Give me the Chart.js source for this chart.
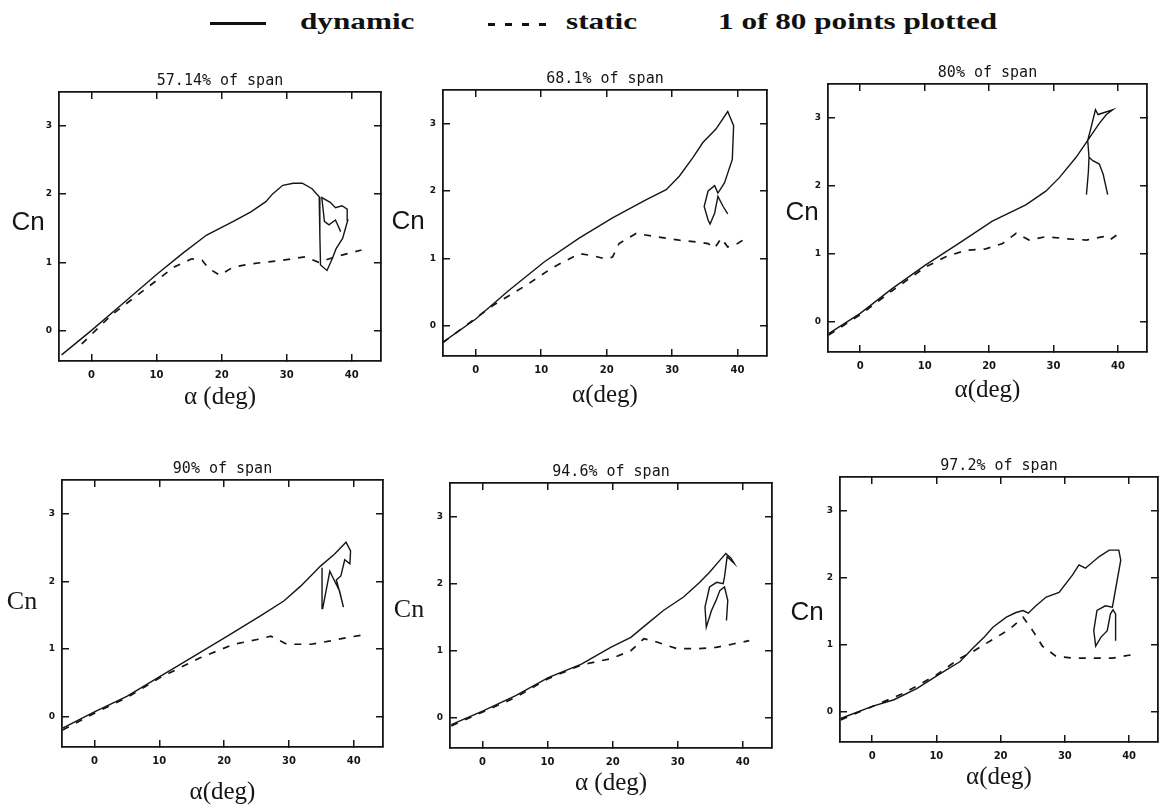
<!DOCTYPE html>
<html>
<head>
<meta charset="utf-8">
<script src="https://cdn.jsdelivr.net/npm/chart.js@4.4.1/dist/chart.umd.min.js"></script>
<style>
  html, body { margin: 0; padding: 0; background: #fff; overflow: hidden; }
  #page { position: relative; width: 1159px; height: 808px; }
  canvas { position: absolute; }
  .key { position: absolute; font-family: "Liberation Serif", serif; font-weight: bold; font-size: 24px;
         line-height: 24px; color: #111; transform-origin: 0 50%; transform: scaleX(1.3); white-space: nowrap; }
  .swatch { position: absolute; height: 3px; }
</style>
</head>
<body>
<div id="page">
  <div class="swatch" style="left:210px;top:22px;width:56px;background:#111"></div>
  <div class="key" style="left:300px;top:9px">dynamic</div>
  <div class="swatch" style="left:488px;top:23px;width:60px;background:repeating-linear-gradient(90deg,#111 0 7px,transparent 7px 17px)"></div>
  <div class="key" style="left:566px;top:9px">static</div>
  <div class="key" style="left:718px;top:9px">1 of 80 points plotted</div>
</div>
<script>
// panel titles and axis labels
const spanTitles = ["57.14% of span", "68.1% of span", "80% of span", "90% of span", "94.6% of span", "97.2% of span"];
const alphaTitles = ["\u03b1 (deg)", "\u03b1(deg)", "\u03b1(deg)", "\u03b1(deg)", "\u03b1 (deg)", "\u03b1(deg)"];
const xTicks = [0, 10, 20, 30, 40];
const yTicks = [0, 1, 2, 3];
const xRange = [-5, 44.5];
const yRange = [-0.45, 3.5];

// [alpha, Cn]
const dynamic57 = [[-4.6,-0.36],[0,0.0],[5,0.41],[10,0.82],[14,1.13],[17.7,1.4],[21.8,1.6],[24.5,1.74],[26.8,1.89],
  [27.8,2.0],[29.4,2.13],[31,2.16],[32.4,2.16],[33.9,2.08],[35,1.96],[35.1,1.4],[35.2,0.96],[36.2,0.88],[37,1.05],
  [37.6,1.2],[38.6,1.35],[39.4,1.62],[39.3,1.78],[38.5,1.83],[37.5,1.8],[36.7,1.88],[35.4,1.95],[35.8,1.6],
  [36.5,1.55],[37.5,1.62],[38.3,1.45]];
const static57 = [[-1.5,-0.2],[3,0.22],[8.6,0.63],[12.7,0.93],[15.4,1.05],[17,1.03],[18,0.91],[19.7,0.81],[21.8,0.93],
  [24.8,0.98],[29.4,1.03],[32.9,1.08],[34.9,1.0],[37.5,1.08],[39.5,1.13],[41.5,1.18]];

const dynamic68 = [[-5.1,-0.25],[0,0.1],[5,0.52],[10.5,0.95],[15.8,1.3],[20.9,1.6],[26,1.87],[29.1,2.02],[31.1,2.22],
  [33.2,2.5],[34.7,2.72],[36.7,2.92],[38.5,3.18],[39.4,2.97],[39.2,2.47],[38,2.12],[37,1.97],[36.5,2.08],[35.5,2.0],
  [34.9,1.77],[35.5,1.57],[35.8,1.51],[36.5,1.67],[37,1.92],[37.8,1.77],[38.5,1.66]];
const static68 = [[-5,-0.25],[2.6,0.3],[7.7,0.6],[11.7,0.86],[15.8,1.07],[17.9,1.04],[19.9,0.99],[20.9,1.02],[21.9,1.22],
  [24.5,1.37],[27.6,1.32],[31.1,1.27],[34.2,1.24],[35.5,1.22],[36.5,1.15],[37.5,1.3],[38.5,1.17],[40,1.22],[41.3,1.3]];

const dynamic80 = [[-4.9,-0.18],[0,0.12],[4.9,0.48],[10.1,0.83],[15.3,1.15],[20.5,1.48],[25.7,1.72],[28.8,1.92],
  [30.9,2.12],[33.5,2.42],[35.3,2.67],[37.1,2.92],[38.2,3.05],[39.2,3.12],[36.9,3.05],[36.5,3.12],[35.8,2.85],
  [35.3,2.67],[35.5,2.42],[36.1,2.37],[37.1,2.32],[37.7,2.17],[38.4,1.87],[37.7,2.17],[37.1,2.32],[36.1,2.37],
  [35.5,2.42],[35.4,2.2],[35.1,1.87]];
const static80 = [[-4.9,-0.2],[0,0.1],[4.9,0.45],[10.1,0.8],[13.2,0.95],[16.4,1.05],[19.5,1.07],[22.1,1.15],[24.2,1.3],
  [26.2,1.2],[28.8,1.25],[31.9,1.22],[35.1,1.2],[37.7,1.25],[38.7,1.2],[40.5,1.32]];

const dynamic90 = [[-4.9,-0.17],[0,0.07],[5,0.3],[10.2,0.6],[15.3,0.89],[20.5,1.19],[25.6,1.49],[29.2,1.71],[31.8,1.93],
  [34.9,2.23],[37,2.4],[38.8,2.58],[39.5,2.45],[39.4,2.26],[38.6,2.32],[38,2.08],[37.3,2.02],[37.8,1.85],[38.4,1.62],
  [37.8,1.86],[36.8,2.05],[36.3,2.15],[35.8,1.9],[35.2,1.6],[35.1,2.2]];
const static90 = [[-4.9,-0.2],[0,0.05],[5,0.28],[10.2,0.58],[16.3,0.87],[21.5,1.07],[25.1,1.14],[27.2,1.19],[29.7,1.07],
  [33.4,1.07],[36.4,1.12],[39,1.17],[41.6,1.21]];

const dynamic946 = [[-4.8,-0.1],[0,0.1],[5.1,0.33],[10.1,0.6],[15.2,0.8],[19.7,1.05],[22.8,1.2],[25.3,1.4],[27.8,1.6],
  [30.9,1.8],[33.4,2.02],[34.9,2.17],[36.5,2.35],[37.4,2.45],[38.2,2.38],[38.7,2.3],[37.6,2.4],[37.2,2.1],[37,2.0],
  [36,2.02],[34.9,1.95],[34.2,1.65],[34.4,1.35],[35.2,1.6],[35.9,1.75],[36.5,1.9],[37.2,1.95],[37.7,1.75],[37.5,1.45]];
const static946 = [[-4.8,-0.12],[5,0.3],[10,0.58],[15,0.78],[16.7,0.82],[19.7,0.88],[22.8,1.0],[24.8,1.18],[26.8,1.13],
  [29.9,1.03],[32.9,1.03],[35.9,1.05],[38.5,1.1],[41,1.15]];

const dynamic972 = [[-4.9,-0.1],[0,0.08],[3.4,0.18],[7,0.35],[10.3,0.55],[13.7,0.75],[15.7,0.95],[17.5,1.12],[18.8,1.26],
  [20.9,1.41],[22.4,1.48],[23.5,1.51],[24.3,1.47],[25.5,1.58],[27.1,1.71],[29.1,1.78],[31.2,2.04],[32.2,2.19],[33.2,2.14],
  [35.3,2.31],[36.9,2.41],[38.4,2.41],[38.7,2.26],[37.4,1.56],[36.3,1.58],[35,1.51],[34.5,1.21],[34.8,0.98],[35.6,1.11],
  [36.6,1.21],[37.1,1.46],[37.5,1.52],[37.9,1.46],[37.9,1.06]];
const static972 = [[-4.9,-0.12],[5,0.28],[10,0.55],[13.7,0.8],[15.7,0.9],[18.8,1.08],[21.4,1.23],[23.5,1.41],[25,1.21],
  [26.5,0.98],[28.6,0.83],[31.2,0.8],[34.3,0.8],[37.4,0.8],[41,0.86]];

const dynamicSeries = [dynamic57, dynamic68, dynamic80, dynamic90, dynamic946, dynamic972];
const staticSeries = [static57, static68, static80, static90, static946, static972];

// plot box on the page [left, top, right, bottom], x-title gap, Cn offset
const panels = [
  { box: [59, 92, 381, 361], gap: 36, cn: [31, -4], cnFamily: "Liberation Sans" },
  { box: [443, 90, 767, 356], gap: 39, cn: [35, -1], cnFamily: "Liberation Sans" },
  { box: [828, 84, 1147, 352], gap: 38, cn: [26, -5], cnFamily: "Liberation Sans" },
  { box: [62, 480, 383, 747], gap: 45, cn: [40, -11], cnFamily: "Liberation Serif" },
  { box: [450, 483, 772, 748], gap: 35, cn: [41, -5], cnFamily: "Liberation Serif" },
  { box: [840, 477, 1158, 742], gap: 35, cn: [33, 3], cnFamily: "Liberation Sans" }
];

const ink = "#151515";
const L = 70, R = 8, T = 30, B = 60;

// horizontal "Cn" next to the left axis
const cnLabel = {
  id: "cnLabel",
  afterDraw(chart, args, opts) {
    const { ctx, chartArea } = chart;
    ctx.save();
    ctx.font = opts.font;
    ctx.fillStyle = ink;
    ctx.textAlign = "center";
    ctx.textBaseline = "middle";
    ctx.fillText(opts.text, chartArea.left - opts.dx, (chartArea.top + chartArea.bottom) / 2 + opts.dy);
    ctx.restore();
  }
};

// ticks point into the plot, like the original frame
const frameGrid = { drawOnChartArea: false, drawTicks: true, tickLength: -7, color: ink, lineWidth: 1.5 };
const frameBorder = { display: true, color: ink, width: 1.8 };
const setTicks = vals => s => { s.ticks = vals.map(v => ({ value: v })); };

const page = document.getElementById("page");
const toXY = arr => arr.map(([x, y]) => ({ x, y }));

panels.forEach((p, i) => {
  const [x0, y0, x1, y1] = p.box;
  const c = document.createElement("canvas");
  c.width = L + (x1 - x0) + R;
  c.height = T + (y1 - y0) + B;
  c.style.left = (x0 - L) + "px";
  c.style.top = (y0 - T) + "px";
  page.appendChild(c);

  new Chart(c, {
    type: "scatter",
    data: {
      datasets: [
        { label: "dynamic", data: toXY(dynamicSeries[i]), showLine: true, borderColor: ink,
          borderWidth: 1.4, pointRadius: 0, tension: 0 },
        { label: "static", data: toXY(staticSeries[i]), showLine: true, borderColor: ink,
          borderWidth: 1.7, borderDash: [7, 8], pointRadius: 0, tension: 0 }
      ]
    },
    options: {
      responsive: false,
      animation: false,
      layout: { padding: { left: 0, right: R, top: 0, bottom: 0 } },
      plugins: {
        legend: { display: false },
        tooltip: { enabled: false },
        title: {
          display: true, text: spanTitles[i], fullSize: false, color: ink,
          font: { family: "DejaVu Sans Mono", size: 15, weight: "normal", lineHeight: 1 },
          padding: { top: T - 18, bottom: 3 }
        },
        cnLabel: { text: "Cn", dx: p.cn[0], dy: p.cn[1], font: "26px '" + p.cnFamily + "'" }
      },
      scales: {
        x: {
          type: "linear", position: "bottom", min: xRange[0], max: xRange[1],
          afterBuildTicks: setTicks(xTicks),
          afterFit: s => { s.height = B; },
          grid: frameGrid, border: frameBorder,
          ticks: { padding: 15, color: ink, font: { family: "DejaVu Sans", size: 10, weight: "bold" } },
          title: {
            display: true, text: alphaTitles[i], color: ink,
            font: { family: "Liberation Serif", size: 25, lineHeight: 1 },
            padding: { top: 0, bottom: B - p.gap - 12.5 }
          }
        },
        x2: {
          type: "linear", axis: "x", position: "top", min: xRange[0], max: xRange[1],
          afterBuildTicks: setTicks(xTicks),
          afterFit: s => { s.height = 0; },
          grid: frameGrid, border: frameBorder, ticks: { display: false }
        },
        y: {
          type: "linear", position: "left", min: yRange[0], max: yRange[1],
          afterBuildTicks: setTicks(yTicks),
          afterFit: s => { s.width = L; },
          grid: frameGrid, border: frameBorder,
          ticks: { padding: 14, color: ink, font: { family: "DejaVu Sans", size: 9, weight: "bold" } }
        },
        y2: {
          type: "linear", axis: "y", position: "right", min: yRange[0], max: yRange[1],
          afterBuildTicks: setTicks(yTicks),
          afterFit: s => { s.width = 0; },
          grid: frameGrid, border: frameBorder, ticks: { display: false }
        }
      }
    },
    plugins: [cnLabel]
  });
});
</script>
</body>
</html>
